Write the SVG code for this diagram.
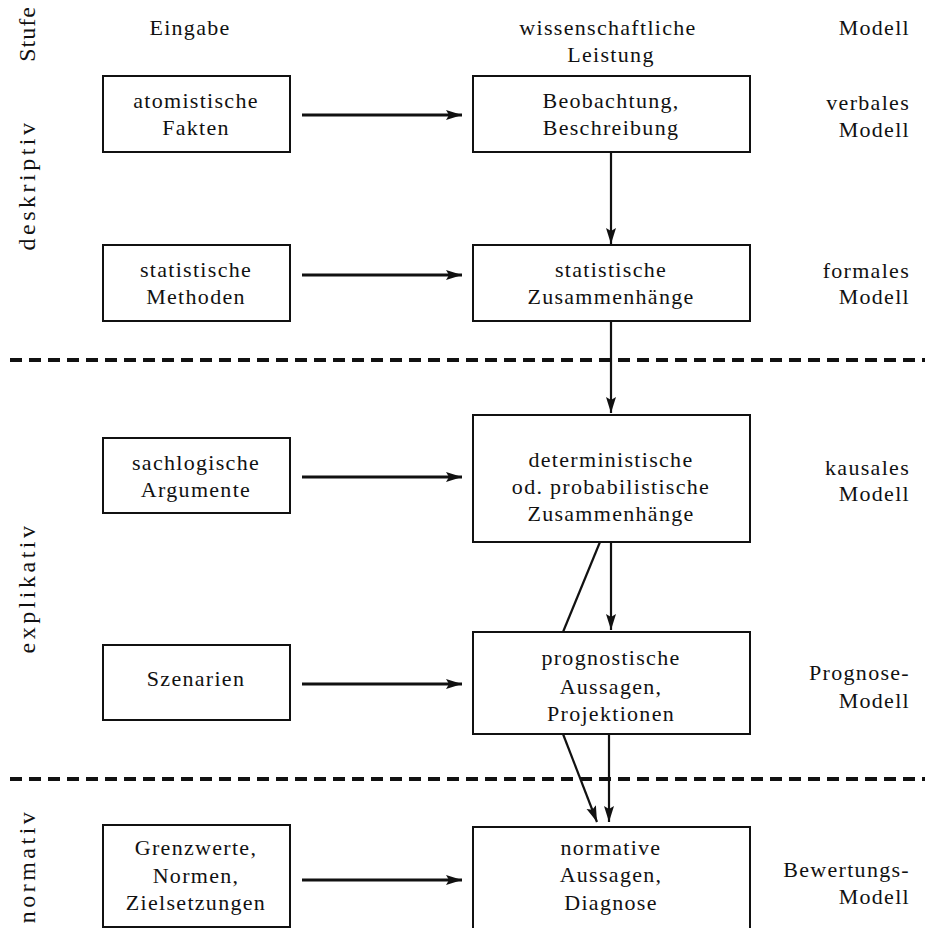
<svg xmlns="http://www.w3.org/2000/svg" width="929" height="928" viewBox="0 0 929 928">
<style>
text{font-family:"Liberation Serif","Times New Roman",serif;font-size:22px;fill:#111;letter-spacing:1.3px}
.c{text-anchor:middle}
.r{text-anchor:end}
.side{font-size:24px;letter-spacing:3.5px}
.box{fill:none;stroke:#111;stroke-width:2}
.arr{stroke:#111;stroke-width:3;fill:none}
.v{stroke:#111;stroke-width:2.2;fill:none}
.dash{stroke:#111;stroke-width:4;stroke-dasharray:12 7;fill:none}
</style>
<defs>
<marker id="ah" markerUnits="userSpaceOnUse" markerWidth="18" markerHeight="12" refX="16" refY="6" orient="auto">
<path d="M0,1 L16,6 L0,11 L3,6 Z" fill="#111"/>
</marker>
</defs>
<rect width="929" height="928" fill="#fff"/>
<g id="stage-labels">
<text class="c side" style="letter-spacing:1px" transform="translate(35,34) rotate(-90)">Stufe</text>
<text class="c side" transform="translate(35,185) rotate(-90)">deskriptiv</text>
<text class="c side" transform="translate(35,588) rotate(-90)">explikativ</text>
<text class="c side" transform="translate(35,866) rotate(-90)">normativ</text>
</g>
<g id="headers">
<text class="c" x="190" y="35">Eingabe</text>
<text class="c" x="608" y="35">wissenschaftliche</text>
<text class="c" x="611" y="62">Leistung</text>
<text class="r" x="910" y="35">Modell</text>
</g>
<g id="connectors">
<line class="arr" x1="302" y1="115" x2="462" y2="115" marker-end="url(#ah)"/>
<line class="arr" x1="302" y1="275" x2="462" y2="275" marker-end="url(#ah)"/>
<line class="arr" x1="302" y1="477" x2="462" y2="477" marker-end="url(#ah)"/>
<line class="arr" x1="302" y1="684" x2="462" y2="684" marker-end="url(#ah)"/>
<line class="arr" x1="302" y1="880" x2="462" y2="880" marker-end="url(#ah)"/>
<line class="v" x1="611" y1="152" x2="611" y2="244" marker-end="url(#ah)"/>
<line class="v" x1="611" y1="321" x2="611" y2="413" marker-end="url(#ah)"/>
<line class="v" x1="611" y1="542" x2="611" y2="630" marker-end="url(#ah)"/>
<line class="v" x1="600" y1="542" x2="563" y2="632"/>
<line class="v" x1="609" y1="734" x2="609" y2="822" marker-end="url(#ah)"/>
<line class="v" x1="563" y1="734" x2="597" y2="822" marker-end="url(#ah)"/>
</g>
<g id="separators">
<line class="dash" x1="10" y1="360" x2="925" y2="360"/>
<line class="dash" x1="10" y1="779" x2="925" y2="779"/>
</g>
<g id="n-atom">
<rect class="box" x="103" y="76" width="187" height="76"/>
<text class="c" x="196" y="108">atomistische</text>
<text class="c" x="196" y="135">Fakten</text>
</g>
<g id="n-beob">
<rect class="box" x="473" y="76" width="277" height="76"/>
<text class="c" x="611" y="108">Beobachtung,</text>
<text class="c" x="611" y="135">Beschreibung</text>
</g>
<g id="m-verbal">
<text class="r" x="910" y="110">verbales</text>
<text class="r" x="910" y="137">Modell</text>
</g>
<g id="n-statmeth">
<rect class="box" x="103" y="245" width="187" height="76"/>
<text class="c" x="196" y="277">statistische</text>
<text class="c" x="196" y="304">Methoden</text>
</g>
<g id="n-statzus">
<rect class="box" x="473" y="245" width="277" height="76"/>
<text class="c" x="611" y="277">statistische</text>
<text class="c" x="611" y="304">Zusammenhänge</text>
</g>
<g id="m-formal">
<text class="r" x="910" y="278">formales</text>
<text class="r" x="910" y="304">Modell</text>
</g>
<g id="n-sach">
<rect class="box" x="103" y="438" width="187" height="75"/>
<text class="c" x="196" y="470">sachlogische</text>
<text class="c" x="196" y="497">Argumente</text>
</g>
<g id="n-determ">
<rect class="box" x="473" y="415" width="277" height="127"/>
<text class="c" x="611" y="467">deterministische</text>
<text class="c" x="611" y="494">od. probabilistische</text>
<text class="c" x="611" y="521">Zusammenhänge</text>
</g>
<g id="m-kausal">
<text class="r" x="910" y="475">kausales</text>
<text class="r" x="910" y="501">Modell</text>
</g>
<g id="n-szen">
<rect class="box" x="103" y="645" width="187" height="75"/>
<text class="c" x="196" y="686">Szenarien</text>
</g>
<g id="n-progn">
<rect class="box" x="473" y="632" width="277" height="102"/>
<text class="c" x="611" y="665">prognostische</text>
<text class="c" x="611" y="694">Aussagen,</text>
<text class="c" x="611" y="721">Projektionen</text>
</g>
<g id="m-progn">
<text class="r" x="910" y="680">Prognose-</text>
<text class="r" x="910" y="708">Modell</text>
</g>
<g id="n-grenz">
<rect class="box" x="103" y="825" width="187" height="102"/>
<text class="c" x="196" y="855">Grenzwerte,</text>
<text class="c" x="196" y="883">Normen,</text>
<text class="c" x="196" y="910">Zielsetzungen</text>
</g>
<g id="n-norm">
<rect class="box" x="473" y="827" width="277" height="102"/>
<text class="c" x="611" y="855">normative</text>
<text class="c" x="611" y="882">Aussagen,</text>
<text class="c" x="611" y="910">Diagnose</text>
</g>
<g id="m-bewert">
<text class="r" x="910" y="877">Bewertungs-</text>
<text class="r" x="910" y="904">Modell</text>
</g>
</svg>
